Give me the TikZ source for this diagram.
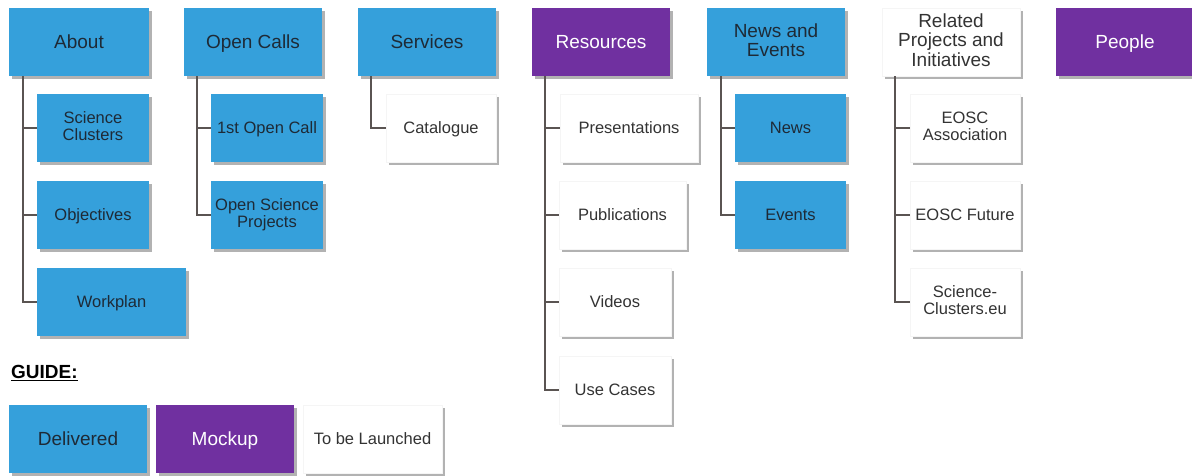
\documentclass[tikz,border=0pt]{standalone}
\usepackage{fontspec}
\setmainfont{Liberation Sans}
\usetikzlibrary{shadows,calc}
\definecolor{dblue}{HTML}{35A0DB}
\definecolor{mpurple}{HTML}{7030A0}
\definecolor{conncol}{HTML}{5A5452}
\definecolor{darktxt}{HTML}{1E2A36}
\definecolor{greytxt}{HTML}{333333}
\newcommand{\boxstrut}{\rule[-0.22em]{0pt}{1.16em}}
\tikzset{
  box/.style={minimum height=68pt, inner sep=2pt, align=center,
    execute at begin node=\boxstrut, execute at end node=\boxstrut,
    drop shadow={shadow xshift=2.5pt, shadow yshift=-2.5pt, fill=black, opacity=0.3}},
  topfont/.style={font=\fontsize{19}{19.5}\selectfont},
  subfont/.style={font=\fontsize{16.5}{17}\selectfont},
  bluebox/.style={box, fill=dblue, text=darktxt},
  purplebox/.style={box, fill=mpurple, text=white},
  whitebox/.style={box, fill=white, draw=black!4, text=greytxt},
  conn/.style={draw=conncol, line width=2.2pt}
}
\begin{document}
\begin{tikzpicture}[x=1pt,y=-1pt]
\useasboundingbox (0,0) rectangle (1192,475);
% top row
\node[bluebox,topfont,minimum width=140pt] (about) at (79,42) {About};
\node[bluebox,topfont,minimum width=138pt] (calls) at (253,42) {Open Calls};
\node[bluebox,topfont,minimum width=138pt] (serv) at (427,42) {Services};
\node[purplebox,topfont,minimum width=138pt] (res) at (601,42) {Resources};
\node[bluebox,topfont,minimum width=138pt] (newsev) at (776,42) {News and\\Events};
\node[whitebox,topfont,minimum width=138pt] (rel) at (951,42) {Related\\Projects and\\Initiatives};
\node[purplebox,topfont,minimum width=138pt] (people) at (1125,42) {People};
% About children
\node[bluebox,subfont,minimum width=112pt] (sc) at (93,128) {Science\\Clusters};
\node[bluebox,subfont,minimum width=112pt] (obj) at (93,215) {Objectives};
\node[bluebox,subfont,minimum width=149pt] (work) at (111.5,302) {Workplan};
% Open calls children
\node[bluebox,subfont,minimum width=112pt] (oc1) at (267,128) {1st Open Call};
\node[bluebox,subfont,minimum width=112pt] (osp) at (267,215) {Open Science\\Projects};
% Services
\node[whitebox,subfont,minimum width=110pt] (cat) at (441,128) {Catalogue};
% Resources
\node[whitebox,subfont,minimum width=138pt] (pres) at (629,128) {Presentations};
\node[whitebox,subfont,minimum width=127pt] (pub) at (622.5,215) {Publications};
\node[whitebox,subfont,minimum width=112pt] (vid) at (615,302) {Videos};
\node[whitebox,subfont,minimum width=112pt] (uc) at (615,390) {Use Cases};
% News
\node[bluebox,subfont,minimum width=111pt] (news) at (790.5,128) {News};
\node[bluebox,subfont,minimum width=111pt] (events) at (790.5,215) {Events};
% Related
\node[whitebox,subfont,minimum width=110pt] (eosca) at (965,128) {EOSC\\Association};
\node[whitebox,subfont,minimum width=110pt] (eoscf) at (965,215) {EOSC Future};
\node[whitebox,subfont,minimum width=110pt] (sceu) at (965,302) {Science-\\Clusters.eu};
% connectors
\coordinate (aL) at ([xshift=14pt]about.south west);
\draw[conn] (aL) |- (work.west);
\draw[conn] (aL |- sc.west) -- (sc.west);
\draw[conn] (aL |- obj.west) -- (obj.west);
\coordinate (cL) at ([xshift=13pt]calls.south west);
\draw[conn] (cL) |- (osp.west);
\draw[conn] (cL |- oc1.west) -- (oc1.west);
\coordinate (sL) at ([xshift=13pt]serv.south west);
\draw[conn] (sL) |- (cat.west);
\coordinate (rL) at ([xshift=13pt]res.south west);
\draw[conn] (rL) |- (uc.west);
\draw[conn] (rL |- pres.west) -- (pres.west);
\draw[conn] (rL |- pub.west) -- (pub.west);
\draw[conn] (rL |- vid.west) -- (vid.west);
\coordinate (nL) at ([xshift=14pt]newsev.south west);
\draw[conn] (nL) |- (events.west);
\draw[conn] (nL |- news.west) -- (news.west);
\coordinate (pL) at ([xshift=13pt]rel.south west);
\draw[conn] (pL) |- (sceu.west);
\draw[conn] (pL |- eosca.west) -- (eosca.west);
\draw[conn] (pL |- eoscf.west) -- (eoscf.west);
% guide
\node[anchor=west, inner sep=0pt, font=\fontsize{19}{20}\selectfont\bfseries, text=black] (guide) at (11,373) {\underline{GUIDE:}};
\node[bluebox,topfont,minimum width=138pt] (deliv) at (78,439) {Delivered};
\node[purplebox,topfont,minimum width=138pt] (mock) at (225,439) {Mockup};
\node[whitebox,subfont,minimum width=139pt] (tbl) at (372.5,439) {To be Launched};
\end{tikzpicture}
\end{document}
